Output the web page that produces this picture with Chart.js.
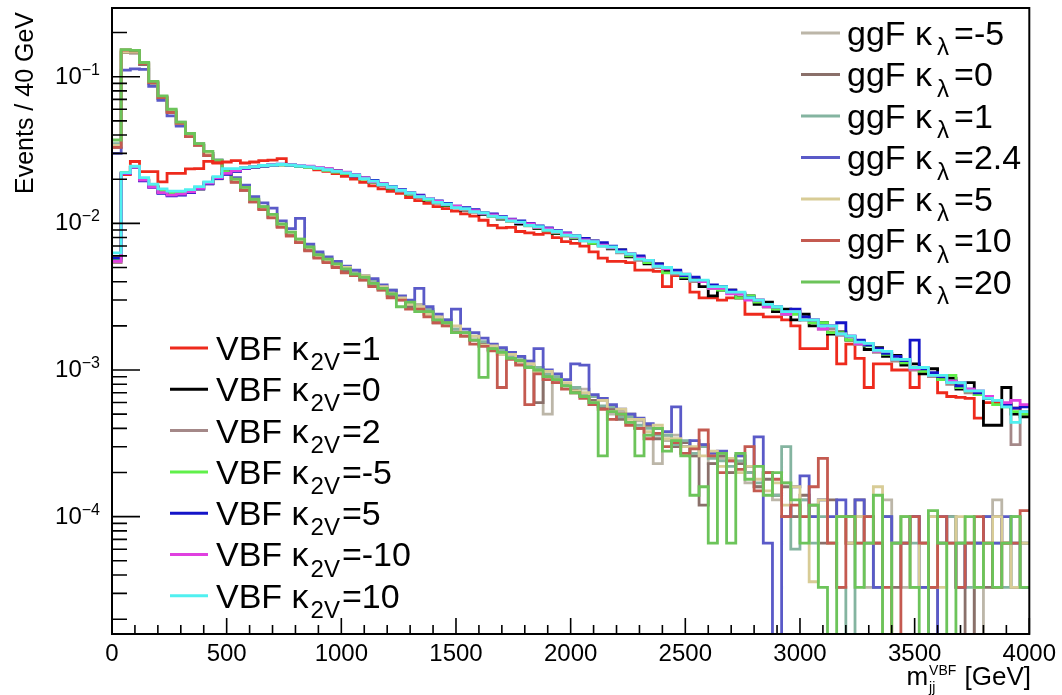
<!DOCTYPE html>
<html>
<head>
<meta charset="utf-8">
<script src="https://cdn.jsdelivr.net/npm/chart.js@4.4.1/dist/chart.umd.min.js"></script>
<style>
  html, body { margin: 0; padding: 0; background: #fff; }
</style>
</head>
<body>
<canvas id="myChart" width="1062" height="695"></canvas>
<script>
// binning: 100 bins of 40 GeV
var nBins = 100;
var binWidth = 40;
var binEdges = [];
for (var i = 0; i <= nBins; i++) binEdges.push(i * binWidth);

// axis range + tick labels
var yMin = 1.585e-5;
var yMax = 0.294;
var yDecadeExp = [-4, -3, -2, -1];
var xMinorStep = 100;
var xMajorStep = 500;

// legend labels
var ggfLabels = ['-5', '0', '1', '2.4', '5', '10', '20'];
var vbfLabels = ['1', '0', '2', '-5', '5', '-10', '10'];
var ggfColors = ['#bcb6a8', '#8a706a', '#84b4a0', '#5a5ac8', '#d8cc96', '#c45a50', '#6cc45a'];
var vbfColors = ['#ee2a1c', '#000000', '#a48888', '#60f04a', '#1414c8', '#e040e0', '#50f0f0'];

// ggF samples (Events / 40 GeV)
var ggf_m5 = [
  0.034, 0.148, 0.146, 0.122, 0.091, 0.072, 0.058, 0.048, 0.040, 0.035,
  0.030, 0.026, 0.0222, 0.0196, 0.0172, 0.0142, 0.0128, 0.0112, 0.0097, 0.0085,
  0.0076, 0.0067, 0.0060, 0.0056, 0.0052, 0.0049, 0.0047, 0.0041, 0.0040, 0.0035,
  0.0034, 0.0030, 0.0028, 0.0028, 0.0024, 0.0022, 0.0021, 0.0018, 0.0018, 0.0016,
  0.00150, 0.00148, 0.00128, 0.00130, 0.00112, 0.00115, 0.00098, 0.00050, 0.00084, 0.00080,
  0.00070, 0.00074, 0.00058, 0.00062, 0.00050, 0.00052, 0.00044, 0.00045, 0.00036, 0.00023,
  0.00033, 0.00036, 0.00030, 0.00026, 0.00031, 0.00023, 0.00025, 0.00020, 0.00026, 0.00017,
  0.00016, 0.00020, 0.00013, 0.00017, 0.00010, 0.00013, 0.00010, 0.00013, 0.000066, 0.00010,
  0.000066, 0.00010, 0.000033, 0.000066, 0.00013, 0.000066, 0.000033, 0.00010, 0.000066, 0,
  0.000066, 0.00010, 0.000033, 0.000066, 0, 0.000066, 0.00013, 0.000066, 0.000066, 0.000033
];
var ggf_0 = [
  0.033, 0.146, 0.145, 0.121, 0.090, 0.071, 0.058, 0.047, 0.039, 0.034,
  0.029, 0.026, 0.0220, 0.0192, 0.0168, 0.0140, 0.0126, 0.0110, 0.0095, 0.0083,
  0.0075, 0.0066, 0.0059, 0.0055, 0.0051, 0.0047, 0.0045, 0.0043, 0.0038, 0.0036,
  0.0032, 0.0031, 0.0027, 0.0026, 0.0025, 0.0021, 0.0021, 0.0019, 0.0017, 0.0016,
  0.00152, 0.00138, 0.00135, 0.00122, 0.00116, 0.00106, 0.00060, 0.00090, 0.00088, 0.00078,
  0.00074, 0.00066, 0.00062, 0.00056, 0.00054, 0.00046, 0.00050, 0.00040, 0.00042, 0.00034,
  0.00036, 0.00030, 0.00032, 0.00026, 0.00012, 0.00023, 0.00026, 0.00020, 0.00023, 0.00020,
  0.00016, 0.00018, 0.00014, 0.00016, 0.00010, 0.00014, 0.00012, 0.000066, 0.00013, 0.00010,
  0.000066, 0.00013, 0.00010, 0.000066, 0.00010, 0.000033, 0.000066, 0.00010, 0.000066, 0.000033,
  0.000066, 0.00010, 0.000066, 0, 0.000066, 0.000033, 0.00010, 0.000066, 0.000033, 0.000066
];
var ggf_1 = [
  0.035, 0.150, 0.148, 0.124, 0.092, 0.073, 0.059, 0.049, 0.040, 0.035,
  0.030, 0.027, 0.0226, 0.0198, 0.0175, 0.0145, 0.0130, 0.0114, 0.0098, 0.0087,
  0.0078, 0.0069, 0.0062, 0.0057, 0.0054, 0.0050, 0.0046, 0.0042, 0.0041, 0.0036,
  0.0035, 0.0031, 0.0029, 0.0027, 0.0026, 0.0022, 0.0022, 0.0019, 0.0018, 0.0017,
  0.00156, 0.00142, 0.00138, 0.00124, 0.00122, 0.00108, 0.00104, 0.00094, 0.00090, 0.00080,
  0.00076, 0.00068, 0.00066, 0.00057, 0.00056, 0.00048, 0.00048, 0.00042, 0.00040, 0.00036,
  0.00036, 0.00031, 0.00033, 0.00027, 0.00030, 0.00025, 0.00024, 0.00022, 0.00024, 0.00020,
  0.00017, 0.00020, 0.00014, 0.00030, 0.000060, 0.00013, 0.000066, 0.00010, 0.000066, 0.000033,
  0, 0.000066, 0.00010, 0.000033, 0.00010, 0.000066, 0.00010, 0.000066, 0.000033, 0.00010,
  0.000066, 0.00010, 0.000066, 0.000033, 0.000066, 0.00010, 0.000066, 0.000033, 0.00010, 0.000066
];
var ggf_2p4 = [
  0.030, 0.111, 0.113, 0.112, 0.086, 0.069, 0.054, 0.046, 0.039, 0.034,
  0.030, 0.027, 0.0232, 0.0205, 0.0182, 0.0152, 0.0138, 0.0127, 0.0104, 0.0092,
  0.0108, 0.0072, 0.0064, 0.0059, 0.0055, 0.0051, 0.0048, 0.0044, 0.0042, 0.0038,
  0.0035, 0.0032, 0.0030, 0.0036, 0.0027, 0.0024, 0.0022, 0.0026, 0.0019, 0.0018,
  0.00165, 0.00150, 0.00142, 0.00132, 0.00124, 0.00115, 0.00140, 0.00100, 0.00094, 0.00086,
  0.00110, 0.00108, 0.00068, 0.00064, 0.00058, 0.00054, 0.00050, 0.00047, 0.00043, 0.00040,
  0.00038, 0.00056, 0.00030, 0.00033, 0.00031, 0.00027, 0.00028, 0.00024, 0.00026, 0.00022,
  0.00035, 0.000066, 0, 0.00010, 0.00016, 0.00019, 0.00010, 0.00013, 0.00010, 0.00013,
  0.00010, 0.00013, 0.000066, 0.000033, 0.00010, 0.000066, 0.000066, 0.00010, 0.000033, 0,
  0.00010, 0.000066, 0.000033, 0.000066, 0.000066, 0.00010, 0.000066, 0.00010, 0.000066, 0.000033
];
var ggf_5 = [
  0.034, 0.147, 0.147, 0.123, 0.091, 0.072, 0.058, 0.048, 0.040, 0.034,
  0.030, 0.026, 0.0224, 0.0197, 0.0170, 0.0143, 0.0128, 0.0113, 0.0096, 0.0086,
  0.0077, 0.0068, 0.0060, 0.0056, 0.0052, 0.0050, 0.0045, 0.0044, 0.0039, 0.0037,
  0.0033, 0.0031, 0.0028, 0.0027, 0.0024, 0.0023, 0.0020, 0.0020, 0.0017, 0.0017,
  0.00148, 0.00146, 0.00128, 0.00128, 0.00114, 0.00110, 0.00096, 0.00098, 0.00086, 0.00082,
  0.00072, 0.00070, 0.00060, 0.00062, 0.00052, 0.00054, 0.00046, 0.00046, 0.00038, 0.00042,
  0.00034, 0.00034, 0.00030, 0.00030, 0.00026, 0.00028, 0.00022, 0.00025, 0.00020, 0.00022,
  0.00018, 0.00015, 0.00017, 0.00012, 0.00016, 0.00010, 0.000036, 0.00013, 0.000066, 0.00010,
  0.000066, 0.00010, 0.000066, 0.00016, 0, 0.000066, 0.00010, 0.000033, 0.000066, 0.00010,
  0.000033, 0.000066, 0.00010, 0.000066, 0.000033, 0.000066, 0.00010, 0.000066, 0.000033, 0.000066
];
var ggf_10 = [
  0.033, 0.152, 0.150, 0.123, 0.091, 0.072, 0.057, 0.048, 0.039, 0.034,
  0.029, 0.026, 0.0218, 0.0190, 0.0168, 0.0140, 0.0124, 0.0109, 0.0094, 0.0082,
  0.0074, 0.0065, 0.0058, 0.0054, 0.0050, 0.0046, 0.0044, 0.0041, 0.0037, 0.0035,
  0.0031, 0.0030, 0.0026, 0.0026, 0.0023, 0.0021, 0.0020, 0.0018, 0.0017, 0.0015,
  0.00145, 0.00135, 0.00076, 0.00118, 0.00108, 0.00058, 0.00094, 0.00086, 0.00082, 0.00074,
  0.00070, 0.00064, 0.00058, 0.00054, 0.00046, 0.00050, 0.00042, 0.00040, 0.00034, 0.00037,
  0.00030, 0.00032, 0.00027, 0.00029, 0.00039, 0.00026, 0.00020, 0.00024, 0.00021, 0.00030,
  0.00015, 0.00020, 0.00018, 0.00010, 0.00012, 0.00010, 0.00016, 0.00025, 0.000066, 0.000033,
  0.00010, 0.000066, 0.00010, 0.000066, 0.000033, 0, 0.000066, 0.00010, 0.000066, 0.000033,
  0.00010, 0.000066, 0.000033, 0.000066, 0.00010, 0.000066, 0.000033, 0.000066, 0.000066, 0.00011
];
var ggf_20 = [
  0.037, 0.153, 0.151, 0.125, 0.093, 0.074, 0.060, 0.049, 0.041, 0.035,
  0.031, 0.027, 0.0226, 0.0200, 0.0176, 0.0146, 0.0130, 0.0115, 0.0099, 0.0087,
  0.0078, 0.0069, 0.0061, 0.0057, 0.0053, 0.0049, 0.0045, 0.0043, 0.0039, 0.0036,
  0.0033, 0.0027, 0.0029, 0.0025, 0.0025, 0.0022, 0.0021, 0.0018, 0.0018, 0.0016,
  0.00089, 0.00140, 0.00132, 0.00120, 0.00116, 0.00104, 0.00100, 0.00090, 0.00086, 0.00078,
  0.00070, 0.00066, 0.00060, 0.00026, 0.00052, 0.00050, 0.00044, 0.00026, 0.00036, 0.00040,
  0.00028, 0.00033, 0.00026, 0.00014, 0.00016, 0.000066, 0.00027, 0.000066, 0.00027, 0.00018,
  0.00022, 0.00014, 0.00020, 0.00017, 0.00013, 0.000066, 0.00012, 0.000033, 0, 0.00010,
  0.00010, 0.000033, 0.000066, 0.00014, 0, 0.000066, 0.00010, 0.000033, 0, 0.00011,
  0.000066, 0, 0.000066, 0.00010, 0.000033, 0.000066, 0.000033, 0.000066, 0.00010, 0.000033
];

// VBF samples (Events / 40 GeV)
var vbf_1 = [
  0.0058, 0.0215, 0.0264, 0.0225, 0.0225, 0.0192, 0.0219, 0.0219, 0.0235, 0.0236,
  0.0265, 0.0258, 0.0262, 0.0268, 0.0258, 0.0262, 0.0268, 0.0270, 0.0276, 0.0250,
  0.0248, 0.0240, 0.0232, 0.0226, 0.0218, 0.0209, 0.0200, 0.0190, 0.0180, 0.0172,
  0.0165, 0.0160, 0.0150, 0.0143, 0.0137, 0.0130, 0.0126, 0.0121, 0.0116, 0.0112,
  0.0105, 0.0097, 0.0093, 0.0094, 0.0088, 0.0086, 0.0084, 0.0086, 0.0080, 0.0075,
  0.0073, 0.0070, 0.0064, 0.0058, 0.0055, 0.0055, 0.0054, 0.0048, 0.0048, 0.0047,
  0.0037, 0.0044, 0.0044, 0.0034, 0.0031, 0.0031, 0.0030, 0.0031, 0.0031, 0.0024,
  0.0024, 0.0023, 0.0023, 0.0022, 0.0020, 0.0014, 0.0014, 0.0014, 0.0018, 0.0011,
  0.0015, 0.0012, 0.00076, 0.0011, 0.0011, 0.0010, 0.0010, 0.00076, 0.00095, 0.00095,
  0.00070, 0.00066, 0.00065, 0.00064, 0.00047, 0.00060, 0.00060, 0.00058, 0.00055, 0.00050
];
var vbf_0 = [
  0.0056, 0.0220, 0.0243, 0.0196, 0.0178, 0.0163, 0.0158, 0.0160, 0.0165, 0.0172,
  0.0187, 0.0203, 0.0218, 0.0228, 0.0238, 0.0243, 0.0247, 0.0249, 0.0251, 0.0249,
  0.0246, 0.0244, 0.0238, 0.0234, 0.0228, 0.0222, 0.0208, 0.0203, 0.0190, 0.0185,
  0.0173, 0.0168, 0.0158, 0.0153, 0.0144, 0.0140, 0.0132, 0.0130, 0.0123, 0.0122,
  0.0115, 0.0114, 0.0107, 0.0106, 0.0099, 0.0099, 0.0092, 0.0092, 0.0085, 0.0085,
  0.0079, 0.0079, 0.0073, 0.0072, 0.0067, 0.0066, 0.0059, 0.0059, 0.0053, 0.0053,
  0.0047, 0.0047, 0.0042, 0.0042, 0.0037, 0.0032, 0.0035, 0.0035, 0.0031, 0.0032,
  0.0028, 0.0029, 0.0025, 0.0026, 0.0022, 0.0024, 0.0020, 0.0021, 0.00176, 0.00182,
  0.00160, 0.00158, 0.00138, 0.00142, 0.00124, 0.00126, 0.00108, 0.00110, 0.00094, 0.00102,
  0.00086, 0.00088, 0.00074, 0.00082, 0.00068, 0.00042, 0.00042, 0.00076, 0.00050, 0.00048
];
var vbf_2 = [
  0.0054, 0.0218, 0.0240, 0.0197, 0.0178, 0.0164, 0.0157, 0.0158, 0.0164, 0.0171,
  0.0186, 0.0201, 0.0217, 0.0229, 0.0237, 0.0242, 0.0248, 0.0248, 0.0252, 0.0250,
  0.0245, 0.0242, 0.0240, 0.0233, 0.0225, 0.0218, 0.0211, 0.0200, 0.0193, 0.0181,
  0.0176, 0.0165, 0.0161, 0.0150, 0.0147, 0.0137, 0.0135, 0.0127, 0.0126, 0.0119,
  0.0118, 0.0111, 0.0110, 0.0103, 0.0102, 0.0096, 0.0095, 0.0089, 0.0088, 0.0082,
  0.0082, 0.0076, 0.0076, 0.0070, 0.0069, 0.0063, 0.0062, 0.0056, 0.0056, 0.0050,
  0.0050, 0.0045, 0.0044, 0.0040, 0.0040, 0.0036, 0.0037, 0.0035, 0.0033, 0.0031,
  0.0030, 0.0027, 0.0027, 0.0024, 0.0025, 0.0022, 0.0022, 0.0019, 0.0019, 0.00172,
  0.00168, 0.00150, 0.00150, 0.00132, 0.00130, 0.00115, 0.00114, 0.00100, 0.00100, 0.00090,
  0.00090, 0.00080, 0.00080, 0.00070, 0.00070, 0.00064, 0.00062, 0.00058, 0.00031, 0.00052
];
var vbf_m5 = [
  0.0056, 0.0222, 0.0244, 0.0200, 0.0180, 0.0166, 0.0160, 0.0161, 0.0167, 0.0175,
  0.0190, 0.0206, 0.0222, 0.0232, 0.0238, 0.0244, 0.0247, 0.0250, 0.0251, 0.0248,
  0.0245, 0.0241, 0.0236, 0.0230, 0.0224, 0.0219, 0.0211, 0.0200, 0.0190, 0.0184,
  0.0174, 0.0167, 0.0158, 0.0154, 0.0145, 0.0140, 0.0133, 0.0129, 0.0124, 0.0121,
  0.0117, 0.0112, 0.0108, 0.0104, 0.0101, 0.0097, 0.0093, 0.0090, 0.0086, 0.0083,
  0.0080, 0.0078, 0.0073, 0.0071, 0.0068, 0.0064, 0.0060, 0.0058, 0.0054, 0.0051,
  0.0046, 0.0046, 0.0043, 0.0041, 0.0040, 0.0036, 0.0035, 0.0034, 0.0031, 0.0032,
  0.0029, 0.0027, 0.0026, 0.0024, 0.0024, 0.0022, 0.0021, 0.0021, 0.0018, 0.0018,
  0.0016, 0.00150, 0.00146, 0.00134, 0.00128, 0.00118, 0.00112, 0.00103, 0.00098, 0.00092,
  0.00086, 0.00092, 0.00076, 0.00072, 0.00068, 0.00064, 0.00058, 0.00056, 0.00052, 0.00050
];
var vbf_5 = [
  0.0058, 0.0218, 0.0242, 0.0195, 0.0176, 0.0160, 0.0154, 0.0156, 0.0162, 0.0172,
  0.0186, 0.0202, 0.0216, 0.0226, 0.0236, 0.0242, 0.0246, 0.0250, 0.0253, 0.0250,
  0.0247, 0.0244, 0.0240, 0.0234, 0.0228, 0.0222, 0.0214, 0.0204, 0.0196, 0.0186,
  0.0178, 0.0170, 0.0162, 0.0156, 0.0148, 0.0142, 0.0137, 0.0131, 0.0128, 0.0124,
  0.0118, 0.0116, 0.0111, 0.0107, 0.0104, 0.0100, 0.0096, 0.0093, 0.0089, 0.0086,
  0.0082, 0.0079, 0.0076, 0.0074, 0.0070, 0.0066, 0.0062, 0.0060, 0.0056, 0.0053,
  0.0050, 0.0048, 0.0044, 0.0043, 0.0040, 0.0038, 0.0037, 0.0035, 0.0033, 0.0031,
  0.0030, 0.0028, 0.0027, 0.0025, 0.0026, 0.0023, 0.0022, 0.0020, 0.0020, 0.0021,
  0.0017, 0.00160, 0.00148, 0.00140, 0.00130, 0.00124, 0.00116, 0.00160, 0.00102, 0.00096,
  0.00090, 0.00084, 0.00078, 0.00074, 0.00070, 0.00064, 0.00062, 0.00058, 0.00055, 0.00056
];
var vbf_m10 = [
  0.0055, 0.0219, 0.0242, 0.0197, 0.0177, 0.0162, 0.0156, 0.0158, 0.0164, 0.0173,
  0.0188, 0.0204, 0.0219, 0.0229, 0.0238, 0.0244, 0.0248, 0.0251, 0.0252, 0.0251,
  0.0248, 0.0245, 0.0241, 0.0236, 0.0228, 0.0223, 0.0210, 0.0204, 0.0192, 0.0186,
  0.0176, 0.0168, 0.0161, 0.0153, 0.0148, 0.0141, 0.0134, 0.0131, 0.0125, 0.0122,
  0.0117, 0.0114, 0.0109, 0.0106, 0.0101, 0.0099, 0.0094, 0.0092, 0.0087, 0.0085,
  0.0081, 0.0077, 0.0075, 0.0071, 0.0068, 0.0064, 0.0062, 0.0058, 0.0056, 0.0051,
  0.0049, 0.0046, 0.0045, 0.0041, 0.0040, 0.0036, 0.0036, 0.0033, 0.0033, 0.0030,
  0.0030, 0.0027, 0.0027, 0.0024, 0.0025, 0.0022, 0.0022, 0.0019, 0.0020, 0.00176,
  0.00170, 0.00150, 0.00152, 0.00134, 0.00134, 0.00118, 0.00118, 0.00102, 0.00104, 0.00092,
  0.00092, 0.00084, 0.00082, 0.00074, 0.00072, 0.00066, 0.00062, 0.00060, 0.00062, 0.00058
];
var vbf_10 = [
  0.0063, 0.0222, 0.0245, 0.0205, 0.0185, 0.0172, 0.0166, 0.0166, 0.0170, 0.0178,
  0.0192, 0.0208, 0.0236, 0.0236, 0.0240, 0.0244, 0.0248, 0.0250, 0.0252, 0.0250,
  0.0246, 0.0243, 0.0238, 0.0232, 0.0226, 0.0221, 0.0212, 0.0202, 0.0194, 0.0184,
  0.0177, 0.0168, 0.0161, 0.0152, 0.0147, 0.0139, 0.0135, 0.0128, 0.0126, 0.0120,
  0.0118, 0.0112, 0.0110, 0.0104, 0.0102, 0.0097, 0.0095, 0.0090, 0.0088, 0.0083,
  0.0082, 0.0076, 0.0075, 0.0070, 0.0069, 0.0064, 0.0062, 0.0057, 0.0056, 0.0051,
  0.0050, 0.0046, 0.0045, 0.0041, 0.0041, 0.0037, 0.0037, 0.0034, 0.0034, 0.0031,
  0.0030, 0.0028, 0.0027, 0.0025, 0.0025, 0.0022, 0.0022, 0.0020, 0.0020, 0.00176,
  0.00170, 0.00155, 0.00152, 0.00136, 0.00134, 0.00118, 0.00118, 0.00104, 0.00104, 0.00092,
  0.00092, 0.00082, 0.00082, 0.00072, 0.00072, 0.00064, 0.00062, 0.00056, 0.00044, 0.00052
];

var ggfData = [ggf_m5, ggf_0, ggf_1, ggf_2p4, ggf_5, ggf_10, ggf_20];
var vbfData = [vbf_1, vbf_0, vbf_2, vbf_m5, vbf_5, vbf_m10, vbf_10];

// histogram outline: one point at each low edge + closing point at the last edge
// empty bins are sent below the axis so the outline drops to the frame (like ROOT)
function histPoints(vals) {
    var pts = vals.map(function (v, i) {
        return { x: binEdges[i], y: v > 0 ? v : yMin / 10 };
    });
    pts.push({ x: binEdges[nBins], y: pts[pts.length - 1].y });
    return pts;
}

var datasets = [];
ggfData.forEach(function (vals, i) {
    datasets.push({ label: 'ggF κλ=' + ggfLabels[i], data: histPoints(vals), borderColor: ggfColors[i] });
});
vbfData.forEach(function (vals, i) {
    datasets.push({ label: 'VBF κ2V=' + vbfLabels[i], data: histPoints(vals), borderColor: vbfColors[i] });
});
datasets.forEach(function (ds, i) {
    ds.order = datasets.length - i; // later ones drawn on top
    ds.stepped = true;
    ds.borderWidth = 2.8;
    ds.pointRadius = 0;
    ds.fill = false;
    ds.tension = 0;
});

var FONT = '"Liberation Sans", Arial, sans-serif';

function drawLegendEntry(ctx, x0, x1, xt, y, color, pre, sub, post, size, gap) {
    ctx.strokeStyle = color;
    ctx.lineWidth = 3;
    ctx.beginPath();
    ctx.moveTo(x0, y);
    ctx.lineTo(x1, y);
    ctx.stroke();
    var base = y + size * 0.35;
    var x = xt;
    ctx.fillStyle = '#000';
    ctx.textAlign = 'left';
    ctx.textBaseline = 'alphabetic';
    ctx.font = size + 'px ' + FONT;
    ctx.fillText(pre, x, base);
    x += ctx.measureText(pre).width + gap;
    var subSize = Math.round(size * 0.7);
    ctx.font = subSize + 'px ' + FONT;
    ctx.fillText(sub, x, base + size * 0.3);
    x += ctx.measureText(sub).width + gap;
    ctx.font = size + 'px ' + FONT;
    ctx.fillText(post, x, base);
}

// ROOT-like frame, inward ticks, labels and legends
var rootStyle = {
    id: 'rootStyle',
    afterDatasetsDraw: function (chart) {
        var ctx = chart.ctx;
        var a = chart.chartArea;
        var xs = chart.scales.x;
        var ys = chart.scales.y;
        ctx.save();

        ctx.strokeStyle = '#000';
        ctx.lineWidth = 2;
        ctx.strokeRect(a.left, a.top, a.right - a.left, a.bottom - a.top);

        ctx.lineWidth = 1.6;
        ctx.beginPath();
        for (var v = 0; v <= xs.max; v += xMinorStep) {
            var px = xs.getPixelForValue(v);
            var len = v % xMajorStep === 0 ? 16 : 9;
            ctx.moveTo(px, a.bottom);
            ctx.lineTo(px, a.bottom - len);
        }
        for (var e = -5; e <= -1; e++) {
            for (var m = 1; m <= 9; m++) {
                var val = m * Math.pow(10, e);
                if (val < ys.min || val > ys.max) continue;
                var py = ys.getPixelForValue(val);
                ctx.moveTo(a.left, py);
                ctx.lineTo(a.left + (m === 1 ? 28 : 15), py);
            }
        }
        ctx.stroke();

        // y tick labels 10^n
        ctx.fillStyle = '#000';
        ctx.textBaseline = 'alphabetic';
        ctx.textAlign = 'right';
        yDecadeExp.forEach(function (ex) {
            var py = ys.getPixelForValue(Math.pow(10, ex));
            var supTxt = '\u2212' + Math.abs(ex);
            ctx.font = '16px ' + FONT;
            var w = ctx.measureText(supTxt).width;
            ctx.fillText(supTxt, 100, py - 2);
            ctx.font = '24px ' + FONT;
            ctx.fillText('10', 100 - w, py + 7);
        });

        // y title
        ctx.save();
        ctx.translate(33, 12);
        ctx.rotate(-Math.PI / 2);
        ctx.textAlign = 'right';
        ctx.font = '25px ' + FONT;
        ctx.fillText('Events / 40 GeV', 0, 0);
        ctx.restore();

        // x title  m_jj^VBF [GeV]
        ctx.textAlign = 'left';
        ctx.font = '26px ' + FONT;
        var tail = ' [GeV]';
        var wTail = ctx.measureText(tail).width;
        var wM = ctx.measureText('m').width;
        ctx.font = '14px ' + FONT;
        var wSup = ctx.measureText('VBF').width;
        var wScript = wSup + 2;
        var xStart = 1031 - wTail - wScript - wM;
        ctx.font = '26px ' + FONT;
        ctx.fillText('m', xStart, 685);
        ctx.fillText(tail, xStart + wM + wScript, 685);
        ctx.font = '14px ' + FONT;
        ctx.fillText('VBF', xStart + wM + 1, 675);
        ctx.fillText('jj', xStart + wM + 1, 692);

        // legends
        var sz = 34;
        ggfLabels.forEach(function (lab, i) {
            drawLegendEntry(ctx, 801, 840, 847, 33 + 41.5 * i, ggfColors[i], 'ggF κ', 'λ', '=' + lab, sz, 5);
        });
        vbfLabels.forEach(function (lab, i) {
            drawLegendEntry(ctx, 170, 208, 216, 348 + 41.3 * i, vbfColors[i], 'VBF κ', '2V', '=' + lab, sz, 2);
        });

        ctx.restore();
    }
};

var ctxEl = document.getElementById('myChart');
var chart = new Chart(ctxEl, {
    type: 'line',
    data: { datasets: datasets },
    options: {
        responsive: false,
        animation: false,
        devicePixelRatio: 1,
        layout: { padding: { left: 0, right: 31, top: 8, bottom: 0 } },
        plugins: { legend: { display: false }, tooltip: { enabled: false } },
        scales: {
            x: {
                type: 'linear',
                min: 0,
                max: 4000,
                grid: { display: false, drawTicks: false, tickLength: 0 },
                border: { display: false },
                ticks: {
                    stepSize: xMajorStep,
                    maxRotation: 0,
                    autoSkip: false,
                    padding: 6,
                    color: '#000',
                    font: { family: FONT, size: 24 },
                    callback: function (v) { return String(v); }
                },
                afterFit: function (s) { s.height = 61; }
            },
            y: {
                type: 'logarithmic',
                min: yMin,
                max: yMax,
                grid: { display: false, drawTicks: false },
                border: { display: false },
                ticks: { display: false },
                afterFit: function (s) { s.width = 112; }
            }
        }
    },
    plugins: [rootStyle]
});
</script>
</body>
</html>
